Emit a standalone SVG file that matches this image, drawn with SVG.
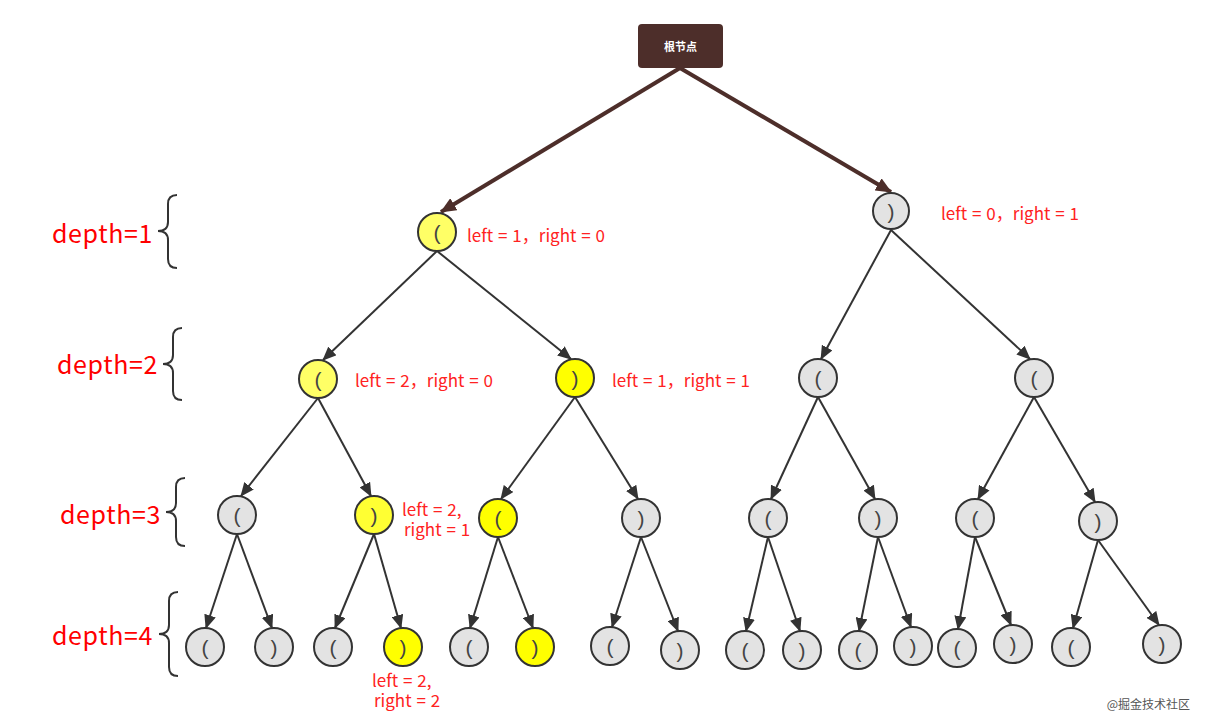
<svg xmlns="http://www.w3.org/2000/svg" width="1205" height="726" viewBox="0 0 1205 726">
<style>
.n{stroke:#333;stroke-width:2}
.g{fill:#e3e3e3}
.y1{fill:#ffff66}
.y2{fill:#ffff00}
.p{font-family:"Liberation Sans",sans-serif;font-size:21px;fill:#444;text-anchor:middle}
.lb{font-family:"Noto Sans CJK SC","Liberation Sans",sans-serif;font-size:17px;fill:#ff2222;word-spacing:1px}
.dp{font-family:"Noto Sans CJK SC","Liberation Sans",sans-serif;font-size:25px;fill:#ff0000;letter-spacing:0.6px}
.e{stroke:#333;stroke-width:2;fill:none;marker-end:url(#a)}
.er{stroke:#4d2e2a;stroke-width:4;fill:none;marker-end:url(#b)}
.br{stroke:#333;stroke-width:2;fill:none}
</style>
<defs>
<marker id="a" markerUnits="userSpaceOnUse" markerWidth="14" markerHeight="12" refX="13" refY="6" orient="auto"><path d="M0,0 L14,6 L0,12 z" fill="#333"/></marker>
<marker id="b" markerUnits="userSpaceOnUse" markerWidth="16" markerHeight="14" refX="15" refY="7" orient="auto"><path d="M0,0 L16,7 L0,14 z" fill="#4d2e2a"/></marker>
</defs>
<rect width="1205" height="726" fill="#fff"/>
<g id="connectors">
<line class="er" x1="680" y1="68" x2="441" y2="212"/>
<line class="er" x1="680" y1="68" x2="891" y2="192"/>
<line class="e" x1="437" y1="251" x2="323" y2="360"/>
<line class="e" x1="437" y1="251" x2="571" y2="359"/>
<line class="e" x1="891" y1="230" x2="821" y2="359"/>
<line class="e" x1="891" y1="230" x2="1030" y2="359"/>
<line class="e" x1="318" y1="398" x2="241" y2="496"/>
<line class="e" x1="318" y1="398" x2="371" y2="496"/>
<line class="e" x1="575" y1="397" x2="501" y2="499"/>
<line class="e" x1="575" y1="397" x2="638" y2="499"/>
<line class="e" x1="818" y1="397" x2="771" y2="499"/>
<line class="e" x1="818" y1="397" x2="875" y2="499"/>
<line class="e" x1="1034" y1="397" x2="978" y2="499"/>
<line class="e" x1="1034" y1="397" x2="1095" y2="502"/>
<line class="e" x1="237" y1="534" x2="206" y2="628"/>
<line class="e" x1="237" y1="534" x2="272" y2="628"/>
<line class="e" x1="374" y1="534" x2="335" y2="628"/>
<line class="e" x1="374" y1="534" x2="401" y2="628"/>
<line class="e" x1="498" y1="537" x2="470" y2="628"/>
<line class="e" x1="498" y1="537" x2="533" y2="628"/>
<line class="e" x1="641" y1="537" x2="612" y2="627"/>
<line class="e" x1="641" y1="537" x2="678" y2="631"/>
<line class="e" x1="768" y1="537" x2="746" y2="631"/>
<line class="e" x1="768" y1="537" x2="800" y2="631"/>
<line class="e" x1="878" y1="537" x2="859" y2="631"/>
<line class="e" x1="878" y1="537" x2="911" y2="627"/>
<line class="e" x1="975" y1="537" x2="958" y2="629"/>
<line class="e" x1="975" y1="537" x2="1011" y2="625"/>
<line class="e" x1="1098" y1="540" x2="1073" y2="628"/>
<line class="e" x1="1098" y1="540" x2="1159" y2="625"/>
</g>
<g id="root">
<rect x="638" y="24" width="85" height="44" rx="4" fill="#4d2e2a"/>
<text x="680.5" y="51" font-family="Noto Sans CJK SC,sans-serif" font-size="11" font-weight="bold" fill="#fff" text-anchor="middle">根节点</text>
</g>
<g id="n1L"><circle class="n y1" cx="437" cy="232" r="19"/><text class="p" x="437" y="240">(</text></g>
<g id="n1R"><circle class="n g" cx="891" cy="211" r="18"/><text class="p" x="891" y="219">)</text></g>
<g id="n2a"><circle class="n y1" cx="318" cy="379" r="19"/><text class="p" x="318" y="387">(</text></g>
<g id="n2b"><circle class="n y2" cx="575" cy="378" r="19"/><text class="p" x="575" y="386">)</text></g>
<g id="n2c"><circle class="n g" cx="818" cy="378" r="19"/><text class="p" x="818" y="386">(</text></g>
<g id="n2d"><circle class="n g" cx="1034" cy="378" r="19"/><text class="p" x="1034" y="386">(</text></g>
<g id="n3a"><circle class="n g" cx="237" cy="515" r="19"/><text class="p" x="237" y="523">(</text></g>
<g id="n3b"><circle class="n" fill="#ffff33" cx="374" cy="515" r="19"/><text class="p" x="374" y="523">)</text></g>
<g id="n3c"><circle class="n y2" cx="498" cy="518" r="19"/><text class="p" x="498" y="526">(</text></g>
<g id="n3d"><circle class="n g" cx="641" cy="518" r="19"/><text class="p" x="641" y="526">)</text></g>
<g id="n3e"><circle class="n g" cx="768" cy="518" r="19"/><text class="p" x="768" y="526">(</text></g>
<g id="n3f"><circle class="n g" cx="878" cy="518" r="19"/><text class="p" x="878" y="526">)</text></g>
<g id="n3g"><circle class="n g" cx="975" cy="518" r="19"/><text class="p" x="975" y="526">(</text></g>
<g id="n3h"><circle class="n g" cx="1098" cy="521" r="19"/><text class="p" x="1098" y="529">)</text></g>
<g id="n4a"><circle class="n g" cx="205" cy="647" r="19"/><text class="p" x="205" y="655">(</text></g>
<g id="n4b"><circle class="n g" cx="274" cy="647" r="19"/><text class="p" x="274" y="655">)</text></g>
<g id="n4c"><circle class="n g" cx="333" cy="647" r="19"/><text class="p" x="333" y="655">(</text></g>
<g id="n4d"><circle class="n y2" cx="403" cy="647" r="19"/><text class="p" x="403" y="655">)</text></g>
<g id="n4e"><circle class="n g" cx="469" cy="647" r="19"/><text class="p" x="469" y="655">(</text></g>
<g id="n4f"><circle class="n y2" cx="535" cy="647" r="19"/><text class="p" x="535" y="655">)</text></g>
<g id="n4g"><circle class="n g" cx="610" cy="646" r="19"/><text class="p" x="610" y="654">(</text></g>
<g id="n4h"><circle class="n g" cx="680" cy="650" r="19"/><text class="p" x="680" y="658">)</text></g>
<g id="n4i"><circle class="n g" cx="745" cy="650" r="19"/><text class="p" x="745" y="658">(</text></g>
<g id="n4j"><circle class="n g" cx="802" cy="650" r="19"/><text class="p" x="802" y="658">)</text></g>
<g id="n4k"><circle class="n g" cx="858" cy="650" r="19"/><text class="p" x="858" y="658">(</text></g>
<g id="n4l"><circle class="n g" cx="913" cy="646" r="19"/><text class="p" x="913" y="654">)</text></g>
<g id="n4m"><circle class="n g" cx="957" cy="648" r="19"/><text class="p" x="957" y="656">(</text></g>
<g id="n4n"><circle class="n g" cx="1013" cy="644" r="19"/><text class="p" x="1013" y="652">)</text></g>
<g id="n4o"><circle class="n g" cx="1071" cy="647" r="19"/><text class="p" x="1071" y="655">(</text></g>
<g id="n4p"><circle class="n g" cx="1162" cy="644" r="19"/><text class="p" x="1162" y="652">)</text></g>
<g id="labels">
<text class="lb" x="467" y="242" textLength="138" lengthAdjust="spacing">left = 1，right = 0</text>
<text class="lb" x="941" y="220" textLength="138" lengthAdjust="spacing">left = 0，right = 1</text>
<text class="lb" x="355" y="387" textLength="138" lengthAdjust="spacing">left = 2，right = 0</text>
<text class="lb" x="612" y="387" textLength="138" lengthAdjust="spacing">left = 1，right = 1</text>
<text class="lb" x="402" y="516">left = 2,</text>
<text class="lb" x="404" y="536">right = 1</text>
<text class="lb" x="372" y="687">left = 2,</text>
<text class="lb" x="374" y="707">right = 2</text>
</g>
<g id="depths">
<text class="dp" x="52" y="243">depth=1</text>
<path class="br" d="M177,195 Q168,195 168,204 L168,222 Q168,231 158,231 Q168,231 168,240 L168,259 Q168,268 177,268"/>
<text class="dp" x="57" y="374">depth=2</text>
<path class="br" d="M182,328 Q173,328 173,337 L173,355 Q173,364 163,364 Q173,364 173,373 L173,391 Q173,400 182,400"/>
<text class="dp" x="60" y="524">depth=3</text>
<path class="br" d="M185,478 Q176,478 176,487 L176,503 Q176,512 166,512 Q176,512 176,521 L176,537 Q176,546 185,546"/>
<text class="dp" x="52" y="645">depth=4</text>
<path class="br" d="M178,592 Q169,592 169,601 L169,625 Q169,634 159,634 Q169,634 169,643 L169,667 Q169,676 178,676"/>
</g>
<text x="1190" y="709" font-family="Noto Sans CJK SC,sans-serif" font-size="12" fill="#555" text-anchor="end">@掘金技术社区</text>
</svg>
